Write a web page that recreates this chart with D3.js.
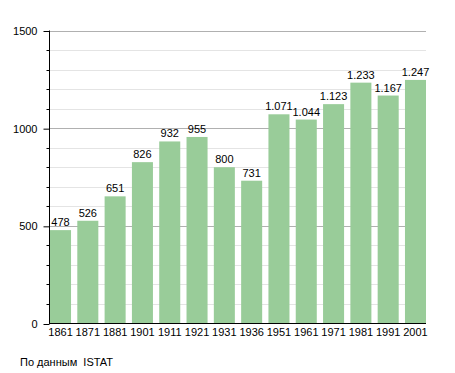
<!DOCTYPE html>
<html>
<head>
<meta charset="utf-8">
<script src="https://cdn.jsdelivr.net/npm/d3@7"></script>
<style>
  html, body { margin: 0; padding: 0; background: #fff; }
  svg text { font-family: "Liberation Sans", Arial, sans-serif; fill: #000; }
</style>
</head>
<body>
<svg id="chart" width="455" height="373"></svg>
<script>
const years = ["1861", "1871", "1881", "1901", "1911", "1921", "1931", "1936", "1951", "1961", "1971", "1981", "1991", "2001"];
const population = [478, 526, 651, 826, 932, 955, 800, 731, 1071, 1044, 1123, 1233, 1167, 1247];
const majorTicks = [0, 500, 1000, 1500];
const minorTicks = d3.range(0, 1501, 100).filter(v => v % 500 !== 0);
const source = "По данным  ISTAT";

const svg = d3.select("#chart");
const plotLeft = 50, plotRight = 426, plotTop = 30.5, plotBottom = 323.5;

const x = d3.scaleBand()
  .domain(years)
  .range([plotLeft, plotRight])
  .paddingInner(0.23)
  .paddingOuter(0);

const y = d3.scaleLinear()
  .domain([0, 1500])
  .range([plotBottom, plotTop]);

// grid lines
svg.append("g")
  .selectAll("line")
  .data(minorTicks)
  .join("line")
  .attr("x1", plotLeft).attr("x2", plotRight)
  .attr("y1", d => Math.round(y(d)) + 0.5)
  .attr("y2", d => Math.round(y(d)) + 0.5)
  .attr("stroke", "#e4e4e4");

svg.append("g")
  .selectAll("line")
  .data(majorTicks.filter(d => d > 0))
  .join("line")
  .attr("x1", plotLeft).attr("x2", plotRight)
  .attr("y1", d => Math.round(y(d)) + 0.5)
  .attr("y2", d => Math.round(y(d)) + 0.5)
  .attr("stroke", "#b0b0b0");

// bars
svg.append("g")
  .selectAll("rect")
  .data(years)
  .join("rect")
  .attr("x", d => x(d))
  .attr("y", (d, i) => y(population[i]))
  .attr("width", x.bandwidth())
  .attr("height", (d, i) => y(0) - y(population[i]))
  .attr("fill", "#99cc99");

// value labels, Italian thousands separator
const fmt = d3.formatLocale({ decimal: ",", thousands: ".", grouping: [3], currency: ["", ""] }).format(",d");
svg.append("g")
  .selectAll("text")
  .data(years)
  .join("text")
  .attr("x", d => x(d) + x.bandwidth() / 2)
  .attr("y", (d, i) => y(population[i]) - 4)
  .attr("text-anchor", "middle")
  .attr("font-size", 11)
  .text((d, i) => fmt(population[i]));

// y axis: major and minor ticks
const yAxis = svg.append("g")
  .attr("transform", `translate(${plotLeft - 0.5},0.5)`)
  .call(d3.axisLeft(y).tickValues(majorTicks).tickSize(6).tickPadding(6).tickFormat(d3.format("d")));
yAxis.selectAll("text").attr("font-size", 11).style("font-family", "Liberation Sans, Arial, sans-serif");
yAxis.select(".domain").attr("d", `M0,${plotTop - 0.5}V${plotBottom}`);

svg.append("g")
  .attr("transform", `translate(${plotLeft - 0.5},0.5)`)
  .selectAll("line")
  .data(minorTicks)
  .join("line")
  .attr("x1", -3).attr("x2", 0)
  .attr("y1", d => Math.round(y(d)))
  .attr("y2", d => Math.round(y(d)))
  .attr("stroke", "#000");

// x axis
const xAxis = svg.append("g")
  .attr("transform", `translate(0,${plotBottom})`)
  .call(d3.axisBottom(x).tickSize(0).tickPadding(5));
xAxis.select(".domain").attr("d", `M${plotLeft - 1},0H${plotRight}`).attr("stroke", "#000");
xAxis.selectAll("text").attr("font-size", 11).style("font-family", "Liberation Sans, Arial, sans-serif");

svg.append("text")
  .attr("x", 20)
  .attr("y", 366)
  .attr("font-size", 11)
  .style("white-space", "pre")
  .text(source);
</script>
</body>
</html>
